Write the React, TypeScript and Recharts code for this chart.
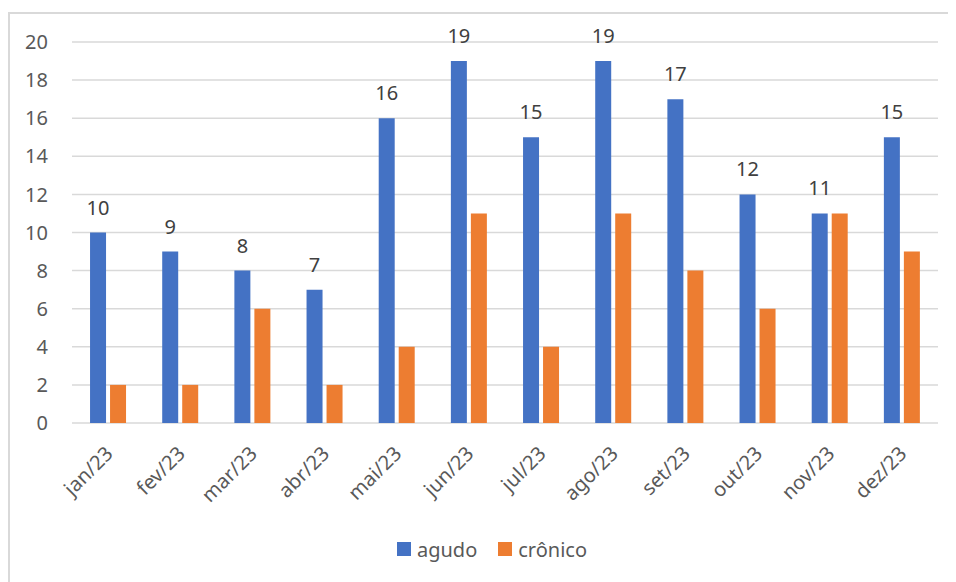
import React from 'react';
import { BarChart, Bar, XAxis, YAxis, CartesianGrid, Legend, LabelList } from 'recharts';

const months = ['jan/23', 'fev/23', 'mar/23', 'abr/23', 'mai/23', 'jun/23', 'jul/23', 'ago/23', 'set/23', 'out/23', 'nov/23', 'dez/23'];
const agudo = [10, 9, 8, 7, 16, 19, 15, 19, 17, 12, 11, 15];
const cronico = [2, 2, 6, 2, 4, 11, 4, 11, 8, 6, 11, 9];
const yTicks = [0, 2, 4, 6, 8, 10, 12, 14, 16, 18, 20];
const boundaryTicks = [0, 1, 2, 3, 4, 5, 6, 7, 8, 9, 10, 11, 12];

const data = months.map((m, i) => ({ month: m, agudo: agudo[i], cronico: cronico[i] }));

const FONT = '"Noto Sans", "Open Sans", sans-serif';
const BLUE = '#4472C4';
const ORANGE = '#ED7D31';
const GRID = '#D9D9D9';
const TEXT = '#595959';

const MonthTick = (props: any) => {
  const { x, y, payload } = props;
  return (
    <g transform={`translate(${x + 6},${y + 32}) rotate(-45)`}>
      <text x={0} y={0} textAnchor="end" fill={TEXT} fontSize={20} fontFamily={FONT}>
        {payload.value}
      </text>
    </g>
  );
};

const LegendContent = () => (
  <div style={{ display: 'flex', justifyContent: 'center', alignItems: 'center', height: 40, fontFamily: FONT, fontSize: 20, color: TEXT, paddingLeft: 38 }}>
    <span style={{ display: 'inline-block', width: 14, height: 14, background: BLUE, marginRight: 6 }} />
    <span style={{ marginRight: 21 }}>agudo</span>
    <span style={{ display: 'inline-block', width: 14, height: 14, background: ORANGE, marginRight: 6 }} />
    <span>crônico</span>
  </div>
);

export default function App() {
  return (
    <div style={{ position: 'relative', width: 948, height: 574 }}>
      <div style={{ position: 'absolute', left: 0, top: 4, width: 948, height: 570, borderTop: `2px solid ${GRID}`, borderLeft: `2px solid ${GRID}`, boxSizing: 'border-box' }} />
      <div style={{ position: 'absolute', left: 0, top: 0 }}>
        <BarChart
          width={948}
          height={574}
          data={data}
          margin={{ top: 34, right: 18, bottom: 13, left: 0 }}
          barCategoryGap="25%"
          barGap={4}
        >
          <CartesianGrid vertical={false} stroke={GRID} strokeWidth={1.5} />
          <XAxis
            xAxisId="bounds"
            type="number"
            domain={[0, 12]}
            ticks={boundaryTicks}
            tick={false}
            tickSize={7}
            tickLine={{ stroke: GRID, strokeWidth: 1.5 }}
            axisLine={{ stroke: GRID, strokeWidth: 1.5 }}
            height={0}
            allowDataOverflow
          />
          <XAxis
            dataKey="month"
            xAxisId="cat"
            interval={0}
            tick={<MonthTick />}
            tickLine={false}
            axisLine={false}
            tickSize={0}
            tickMargin={0}
            height={106}
          />
          <YAxis
            domain={[0, 20]}
            ticks={yTicks}
            width={64}
            axisLine={false}
            tickLine={false}
            tickSize={0}
            tickMargin={24}
            tick={{ fill: TEXT, fontSize: 20, fontFamily: FONT }}
          />
          <Legend verticalAlign="bottom" content={<LegendContent />} />
          <Bar dataKey="agudo" name="agudo" xAxisId="cat" fill={BLUE} isAnimationActive={false}>
            <LabelList dataKey="agudo" position="top" offset={18} fill="#404040" fontSize={20} fontFamily={FONT} />
          </Bar>
          <Bar dataKey="cronico" name="crônico" xAxisId="cat" fill={ORANGE} isAnimationActive={false} />
        </BarChart>
      </div>
    </div>
  );
}
